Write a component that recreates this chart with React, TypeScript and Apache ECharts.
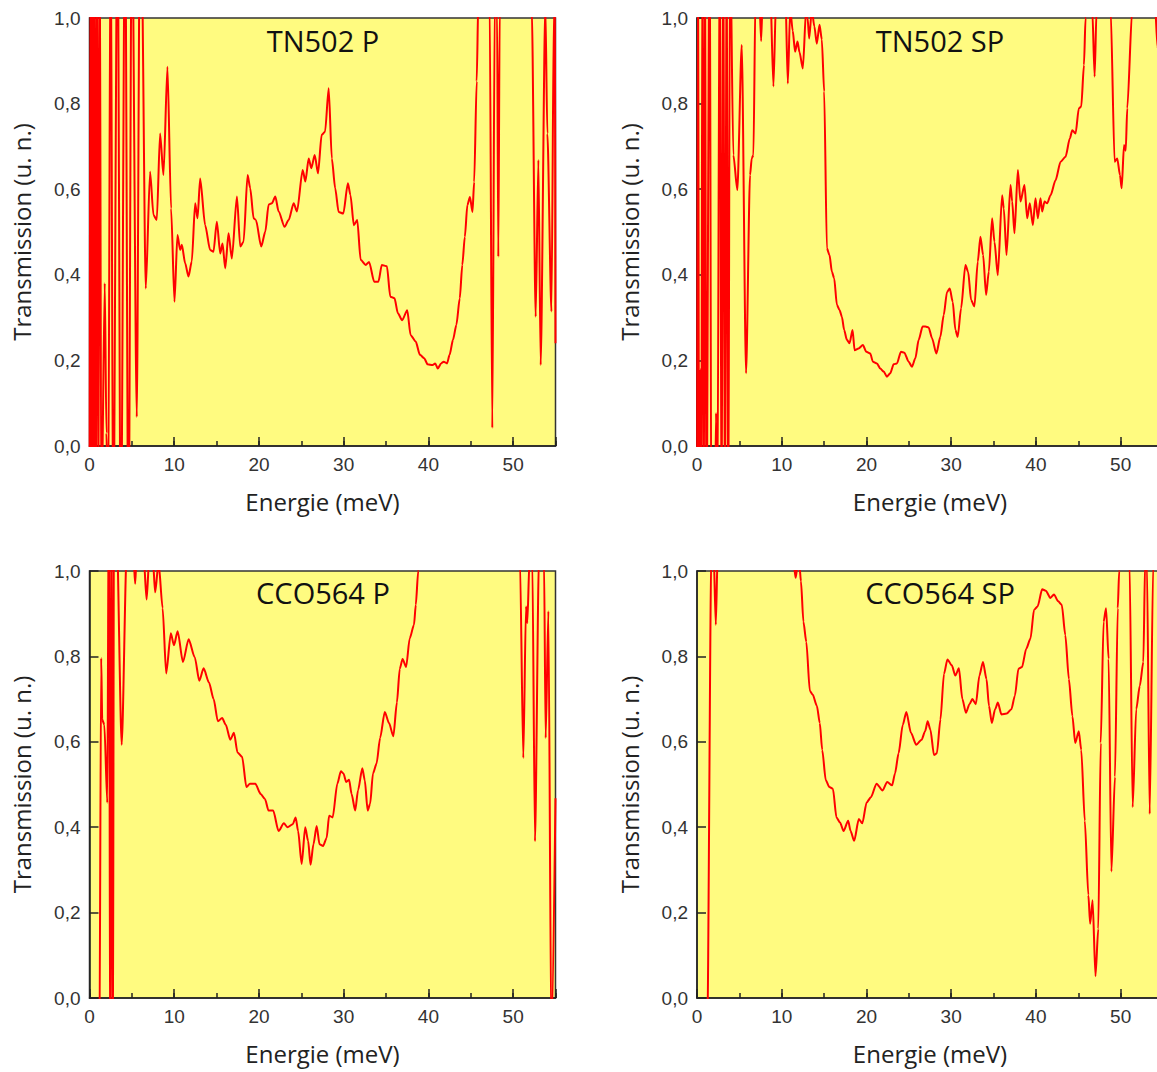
import React, { useEffect, useRef } from 'react';
import * as echarts from 'echarts';

// ---- data: [energy (meV), transmission (u. n.)] ----
const tn502P: number[][] = [
  [0,-0.3],[0.12,1.3],[0.25,-0.3],[0.38,1.3],[0.5,-0.3],[0.62,1.3],[0.75,-0.3],[0.9,1.3],[1.05,-0.3],[1.2,1.3],
  [1.4,-0.2],[1.8,0.38],[2.0,0.03],[2.2,-0.2],[2.5,1.3],[2.8,-0.3],[3.3,1.3],[3.7,-0.3],[4.2,1.3],[4.6,-0.3],
  [5.0,1.3],[5.58,0.068],[5.97,1.3],[6.15,1.15],[6.64,0.368],[7.15,0.641],[7.55,0.54],[7.94,0.528],[8.33,0.73],
  [8.73,0.633],[9.2,0.886],[9.63,0.555],[10.03,0.337],[10.38,0.493],[10.7,0.458],[10.9,0.47],[11.29,0.427],
  [11.68,0.396],[12.07,0.431],[12.47,0.567],[12.75,0.532],[13.06,0.625],[13.65,0.516],[14.24,0.458],[14.63,0.454],
  [15.03,0.524],[15.43,0.45],[15.7,0.473],[16.02,0.415],[16.41,0.497],[16.8,0.438],[17.4,0.583],[17.79,0.466],
  [18.18,0.477],[18.66,0.633],[18.97,0.602],[19.37,0.532],[19.64,0.528],[20.27,0.466],[20.75,0.501],[21.14,0.564],
  [21.53,0.567],[21.93,0.583],[22.32,0.548],[23.03,0.512],[23.5,0.528],[24.1,0.567],[24.49,0.548],[25.16,0.645],
  [25.48,0.618],[25.87,0.672],[26.18,0.649],[26.58,0.68],[26.97,0.637],[27.4,0.727],[27.8,0.734],[28.23,0.836],
  [28.6,0.672],[29.0,0.602],[29.4,0.547],[29.95,0.543],[30.5,0.614],[30.8,0.586],[31.2,0.516],[31.6,0.528],
  [32.0,0.435],[32.6,0.423],[33.0,0.43],[33.6,0.384],[34.1,0.384],[34.5,0.423],[35.1,0.42],[35.5,0.349],[36.0,0.345],
  [36.4,0.31],[36.9,0.294],[37.5,0.317],[37.9,0.259],[38.5,0.244],[39.0,0.213],[39.5,0.205],[39.9,0.191],[40.5,0.189],
  [40.8,0.193],[41.1,0.181],[41.5,0.193],[41.8,0.197],[42.2,0.193],[42.5,0.213],[42.9,0.248],[43.3,0.283],[43.7,0.345],
  [44.0,0.423],[44.3,0.489],[44.6,0.563],[44.9,0.582],[45.2,0.547],[45.4,0.617],[45.7,0.852],[45.9,1.05],[46.5,1.4],
  [47.22,1.05],[47.54,0.042],[47.84,1.05],[48.1,1.02],[48.25,0.442],[48.42,1.02],[49.5,1.4],[51.5,1.4],[52.2,1.02],
  [52.66,0.302],[52.98,0.668],[53.25,0.189],[53.8,1.03],[54.04,0.73],[54.52,0.314],[54.82,1.03],[54.92,1.03],[55,0.24]
];

const tn502SP: number[][] = [
  [0,-0.3],[0.12,1.3],[0.25,-0.3],[0.4,0.18],[0.5,-0.3],[0.65,1.3],[0.8,-0.3],[0.95,1.3],[1.1,-0.3],[1.5,1.3],
  [1.7,-0.3],[2.1,-0.2],[2.25,0.077],[2.4,-0.2],[2.7,1.3],[2.9,-0.3],[3.1,1.3],[3.3,-0.3],[3.5,1.3],[3.68,-0.3],
  [3.9,1.2],[4.29,0.68],[4.76,0.598],[5.28,0.937],[5.79,0.17],[6.26,0.633],[6.46,0.672],[6.66,0.68],[6.9,1.05],
  [7.3,1.08],[7.57,0.946],[7.8,1.08],[8.6,1.1],[9.02,0.84],[9.34,1.05],[10.4,1.08],[10.72,0.847],[11.0,1.02],
  [11.3,0.97],[11.58,0.921],[11.86,0.945],[12.1,0.92],[12.49,0.882],[12.88,1.02],[13.05,1.0],[13.24,0.952],
  [13.55,1.02],[13.85,0.98],[14.14,0.94],[14.46,0.984],[14.73,0.95],[15.01,0.828],[15.33,0.462],[15.64,0.446],
  [15.92,0.407],[16.19,0.392],[16.51,0.33],[16.82,0.318],[17.1,0.302],[17.37,0.271],[17.69,0.248],[18.0,0.24],
  [18.36,0.271],[18.6,0.224],[19.07,0.228],[19.58,0.236],[19.98,0.22],[20.45,0.216],[20.76,0.197],[21.24,0.193],
  [21.63,0.181],[22.03,0.174],[22.42,0.162],[22.81,0.17],[23.21,0.191],[23.6,0.193],[24.07,0.22],[24.47,0.218],
  [24.98,0.197],[25.37,0.185],[25.77,0.205],[26.16,0.248],[26.63,0.279],[26.95,0.279],[27.34,0.277],[27.74,0.252],
  [28.25,0.216],[28.72,0.255],[29.12,0.306],[29.51,0.36],[29.83,0.368],[30.18,0.337],[30.5,0.271],[30.77,0.255],
  [31.17,0.322],[31.68,0.423],[32.0,0.407],[32.35,0.341],[32.74,0.326],[33.14,0.431],[33.45,0.489],[33.77,0.446],
  [34.12,0.353],[34.44,0.407],[34.83,0.532],[35.11,0.477],[35.5,0.399],[36.01,0.586],[36.21,0.555],[36.53,0.446],
  [37.0,0.61],[37.2,0.571],[37.47,0.497],[37.87,0.645],[38.18,0.571],[38.65,0.61],[38.97,0.532],[39.28,0.567],
  [39.64,0.516],[39.95,0.579],[40.23,0.532],[40.54,0.579],[40.74,0.548],[41.02,0.571],[41.33,0.567],[41.73,0.586],
  [42.32,0.621],[42.91,0.664],[43.5,0.676],[44.01,0.719],[44.29,0.738],[44.68,0.73],[45.07,0.789],[45.35,0.793],
  [45.67,0.89],[45.86,1.0],[46.2,1.2],[46.65,1.02],[46.93,0.863],[47.16,1.02],[48.0,1.3],[48.82,1.02],[49.29,0.664],
  [49.6,0.672],[49.92,0.633],[50.12,0.602],[50.4,0.703],[50.6,0.69],[50.78,0.789],[51.37,1.02],[52.5,1.3],
  [54.0,1.05],[54.37,0.929],[54.7,1.1],[55,1.2]
];

const cco564P: number[][] = [
  [0,-0.5],[1.15,-0.2],[1.38,0.796],[1.5,0.652],[1.75,0.64],[2.1,0.457],[2.3,1.3],[2.45,-0.3],[2.6,1.3],[2.75,-0.3],
  [2.9,1.3],[3.2,1.1],[3.8,0.593],[4.4,1.05],[5.2,1.03],[5.39,0.97],[5.55,1.03],[6.4,1.03],[6.74,0.933],[7.05,1.03],
  [7.5,1.02],[7.75,0.95],[8.15,1.02],[8.63,0.913],[9.05,0.76],[9.6,0.854],[9.97,0.826],[10.4,0.859],[11.03,0.787],
  [11.7,0.84],[12.42,0.798],[12.96,0.743],[13.47,0.772],[14.1,0.739],[14.65,0.7],[15.15,0.648],[15.66,0.656],
  [16.08,0.64],[16.62,0.605],[17.05,0.621],[17.47,0.575],[18.01,0.565],[18.52,0.494],[18.94,0.502],[19.57,0.502],
  [20.2,0.478],[20.71,0.466],[21.13,0.439],[21.68,0.439],[22.31,0.391],[22.94,0.409],[23.36,0.4],[23.99,0.407],
  [24.33,0.423],[24.62,0.391],[25.04,0.314],[25.46,0.4],[25.8,0.368],[26.09,0.312],[26.43,0.36],[26.81,0.403],
  [27.15,0.36],[27.57,0.356],[27.99,0.375],[28.28,0.427],[28.7,0.423],[29.25,0.502],[29.67,0.531],[29.97,0.526],
  [30.3,0.506],[30.64,0.511],[30.93,0.478],[31.36,0.439],[31.69,0.486],[32.2,0.538],[32.49,0.51],[32.83,0.439],
  [33.12,0.455],[33.46,0.526],[33.88,0.549],[34.3,0.609],[34.85,0.67],[35.35,0.644],[35.86,0.613],[36.28,0.692],
  [36.62,0.771],[36.95,0.794],[37.37,0.775],[37.79,0.842],[38.3,0.874],[38.51,0.921],[38.8,1.0],[39.3,1.3],
  [45,1.6],[50.3,1.3],[50.8,1.03],[51.2,0.562],[51.52,0.917],[51.67,0.878],[51.94,1.03],[52.26,1.03],[52.58,0.367],
  [53.05,1.03],[53.64,1.03],[53.84,0.609],[54.16,0.906],[54.51,-0.1],[55,0.468]
];

const cco564SP: number[][] = [
  [0,-0.5],[1.2,-0.1],[1.7,1.05],[1.95,1.05],[2.22,0.874],[2.45,1.05],[5,1.4],[11.4,1.02],[11.64,0.984],[11.85,1.01],
  [12.1,1.01],[12.27,0.976],[12.56,0.881],[12.9,0.834],[13.32,0.719],[13.65,0.711],[14.15,0.684],[14.49,0.644],
  [14.78,0.581],[15.2,0.51],[15.62,0.494],[16.04,0.49],[16.46,0.423],[16.88,0.411],[17.3,0.391],[17.84,0.415],
  [18.13,0.391],[18.55,0.368],[19.1,0.419],[19.51,0.409],[20.02,0.458],[20.52,0.47],[21.19,0.502],[21.9,0.486],
  [22.45,0.506],[23.03,0.498],[23.37,0.526],[23.79,0.573],[24.29,0.64],[24.71,0.67],[25.25,0.621],[25.88,0.593],
  [26.51,0.605],[26.93,0.625],[27.22,0.648],[27.55,0.628],[27.97,0.569],[28.31,0.573],[28.73,0.652],[29.15,0.759],
  [29.56,0.793],[30.07,0.779],[30.49,0.755],[30.91,0.772],[31.32,0.7],[31.74,0.668],[32.16,0.688],[32.5,0.7],
  [32.91,0.688],[33.33,0.755],[33.75,0.787],[34.17,0.747],[34.46,0.684],[34.8,0.644],[35.18,0.676],[35.51,0.692],
  [35.93,0.664],[36.56,0.666],[37.1,0.676],[37.52,0.708],[37.94,0.771],[38.36,0.775],[38.86,0.818],[39.36,0.842],
  [39.78,0.909],[40.2,0.917],[40.74,0.957],[41.16,0.954],[41.71,0.937],[42.13,0.945],[42.63,0.929],[43.05,0.921],
  [43.47,0.85],[43.89,0.747],[44.31,0.66],[44.64,0.597],[45.06,0.625],[45.35,0.581],[45.77,0.415],[46.19,0.241],
  [46.4,0.174],[46.69,0.229],[47.03,0.051],[47.36,0.162],[47.65,0.597],[47.99,0.881],[48.28,0.913],[48.58,0.794],
  [48.91,0.296],[49.33,0.518],[49.66,0.913],[49.83,1.0],[50.3,1.3],[51.05,1.02],[51.42,0.447],[51.84,0.676],
  [52.26,0.731],[52.68,0.787],[52.89,1.02],[53.1,1.02],[53.43,0.431],[53.85,1.02],[54.2,1.05],[55,1.2]
];

const panelTitles = ['TN502 P', 'TN502 SP', 'CCO564 P', 'CCO564 SP'];
const panelData = [tn502P, tn502SP, cco564P, cco564SP];
const xMin = 0, xMax = 55, xMajor = 10, xMinor = 5;
const yMin = 0, yMax = 1, yStep = 0.2;
const xTitle = 'Energie (meV)';
const yTitle = 'Transmission (u. n.)';

// layout
const gridPos = [
  { left: 89.5, top: 18, height: 428 },
  { left: 697, top: 18, height: 428 },
  { left: 89.5, top: 571, height: 427 },
  { left: 697, top: 571, height: 427 },
];
const gridWidth = 466;
const titlePos = [[323, 40], [940, 40], [323, 592], [940, 592]];

const LABEL_FONT = '"Liberation Sans", Arial, sans-serif';
const TEXT_FONT = '"Open Sans", "Noto Sans", sans-serif';

export default function App() {
  const ref = useRef<HTMLDivElement>(null);
  useEffect(() => {
    if (!ref.current) return;
    const chart = echarts.init(ref.current, undefined, { renderer: 'svg' });
    const axisColor = '#222';
    const grid = gridPos.map((g) => ({
      left: g.left, top: g.top, width: gridWidth, height: g.height,
      show: true, backgroundColor: '#FFFB80', borderColor: '#333', borderWidth: 1.5,
    }));
    const xAxis: any[] = [];
    gridPos.forEach((_, i) => {
      xAxis.push({
        type: 'value', gridIndex: i, position: 'bottom', min: xMin, max: xMax, interval: xMajor,
        axisLine: { show: true, lineStyle: { color: axisColor, width: 1.5 } },
        axisTick: { show: true, inside: true, length: 9, lineStyle: { color: axisColor, width: 1.5 } },
        axisLabel: {
          formatter: (v: number) => (v > 50 ? '' : String(v)),
          fontFamily: LABEL_FONT, fontSize: 19, color: '#333', margin: 9,
        },
        splitLine: { show: false },
        name: xTitle, nameLocation: 'middle', nameGap: 43,
        nameTextStyle: { fontFamily: TEXT_FONT, fontSize: 24, color: '#222' },
      });
      xAxis.push({
        type: 'value', gridIndex: i, position: 'bottom', min: xMin, max: xMax, interval: xMinor,
        axisLine: { show: false },
        axisTick: { show: true, inside: true, length: 5, lineStyle: { color: axisColor, width: 1.5 } },
        axisLabel: { show: false },
        splitLine: { show: false },
      });
    });
    const yAxis = gridPos.map((_, i) => ({
      type: 'value', gridIndex: i, min: yMin, max: yMax, interval: yStep,
      axisLine: { show: true, lineStyle: { color: axisColor, width: 1.5 } },
      axisTick: { show: true, inside: true, length: 9, lineStyle: { color: axisColor, width: 1.5 } },
      axisLabel: {
        formatter: (v: number) => v.toFixed(1).replace('.', ','),
        fontFamily: LABEL_FONT, fontSize: 19, color: '#333', margin: 9,
      },
      splitLine: { show: false },
      name: yTitle, nameLocation: 'middle', nameGap: 56, nameRotate: 90,
      nameTextStyle: { fontFamily: TEXT_FONT, fontSize: 24, color: '#222' },
    }));
    const series = panelData.map((d, i) => ({
      type: 'line', xAxisIndex: i * 2, yAxisIndex: i, data: d,
      showSymbol: false, symbol: 'none', smooth: 0.25, smoothMonotone: 'x', clip: true, silent: true,
      lineStyle: { color: '#FF0000', width: 2 },
    }));
    const graphic = panelTitles.map((t, i) => ({
      type: 'text', x: titlePos[i][0], y: titlePos[i][1], z: 100,
      style: {
        text: t, fill: '#111', font: `29px ${TEXT_FONT}`, fontSize: 29, fontFamily: TEXT_FONT,
        align: 'center', verticalAlign: 'middle', textAlign: 'center', textVerticalAlign: 'middle',
      },
    }));
    chart.setOption({ animation: false, grid, xAxis, yAxis, series, graphic });
    return () => chart.dispose();
  }, []);
  return (
    <div style={{ position: 'absolute', left: 0, top: 0, width: 1157, height: 1072, overflow: 'hidden', background: '#fff' }}>
      <div ref={ref} style={{ width: 1180, height: 1072 }} />
    </div>
  );
}
